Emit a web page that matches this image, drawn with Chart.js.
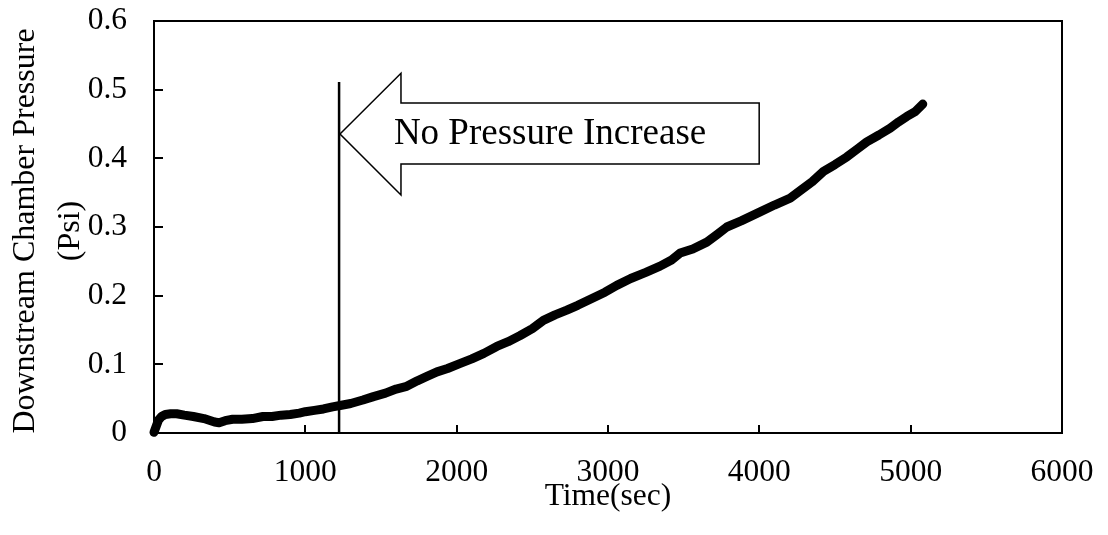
<!DOCTYPE html>
<html>
<head>
<meta charset="utf-8">
<script src="https://cdn.jsdelivr.net/npm/chart.js@4/dist/chart.umd.min.js"></script>
<style>
html,body{margin:0;padding:0;background:#fff;}
#wrap{width:1108px;height:535px;position:relative;}
</style>
</head>
<body>
<div id="wrap"><canvas id="c" width="1108" height="535"></canvas></div>
<script>
// ---- data ----
const timeSec = [0, 15, 30, 50, 75, 110, 150, 200, 260, 330, 400, 430, 470, 520, 580, 650, 720, 780, 840, 900, 960, 1000, 1060, 1120, 1180, 1230, 1300, 1380, 1450, 1530, 1600, 1670, 1740, 1800, 1870, 1940, 2020, 2100, 2180, 2265, 2340, 2420, 2500, 2573, 2650, 2728, 2800, 2904, 2980, 3058, 3150, 3250, 3344, 3420, 3477, 3560, 3653, 3720, 3785, 3880, 4005, 4100, 4204, 4270, 4350, 4424, 4500, 4578, 4650, 4710, 4790, 4865, 4920, 4975, 5030, 5080];
const pressurePsi = [0.001, 0.010, 0.019, 0.024, 0.027, 0.028, 0.028, 0.026, 0.024, 0.021, 0.016, 0.015, 0.018, 0.020, 0.020, 0.021, 0.024, 0.024, 0.026, 0.027, 0.029, 0.031, 0.033, 0.035, 0.038, 0.040, 0.043, 0.048, 0.053, 0.058, 0.064, 0.068, 0.076, 0.082, 0.089, 0.094, 0.101, 0.108, 0.116, 0.126, 0.133, 0.142, 0.152, 0.164, 0.172, 0.179, 0.186, 0.197, 0.205, 0.215, 0.225, 0.234, 0.243, 0.252, 0.262, 0.268, 0.278, 0.289, 0.300, 0.309, 0.322, 0.332, 0.342, 0.353, 0.366, 0.381, 0.391, 0.402, 0.414, 0.424, 0.434, 0.444, 0.453, 0.461, 0.468, 0.479];
const xTicks = [0, 1000, 2000, 3000, 4000, 5000, 6000];
const yTicks = [0, 0.1, 0.2, 0.3, 0.4, 0.5, 0.6];
const xTitle = 'Time(sec)';
const yTitle = ['Downstream Chamber Pressure ', '(Psi) '];
const annotationText = 'No Pressure Increase';
// marker line (data units)
const markerTime = 1223;
const markerTop = 0.511;
// arrow outline (data units)
const arrowTip = {t: 1229, p: 0.4354};
const arrowHead = {t: 1632, pTop: 0.524, pBottom: 0.3466};
const arrowShaft = {tEnd: 3999, pTop: 0.4806, pBottom: 0.3917};
const labelPos = {t: 2617, p: 0.435};

const FONT = "'Liberation Serif', 'Times New Roman', serif";

const points = timeSec.map((t, i) => ({x: t, y: pressurePsi[i]}));

const framePlugin = {
  id: 'frame',
  afterDraw(chart) {
    const {ctx, chartArea: a, scales: {x, y}} = chart;
    ctx.save();
    ctx.strokeStyle = '#000';
    ctx.lineWidth = 2;
    ctx.strokeRect(a.left, a.top, a.right - a.left, a.bottom - a.top);
    // inward tick marks
    ctx.beginPath();
    xTicks.forEach(v => {
      if (v === xTicks[0] || v === xTicks[xTicks.length - 1]) return;
      const px = Math.round(x.getPixelForValue(v));
      ctx.moveTo(px, a.bottom);
      ctx.lineTo(px, a.bottom - 8);
    });
    yTicks.forEach(v => {
      if (v === yTicks[0] || v === yTicks[yTicks.length - 1]) return;
      const py = Math.round(y.getPixelForValue(v));
      ctx.moveTo(a.left, py);
      ctx.lineTo(a.left + 9, py);
    });
    ctx.stroke();
    // vertical marker line
    ctx.lineWidth = 2.5;
    ctx.beginPath();
    const mx = x.getPixelForValue(markerTime);
    ctx.moveTo(mx, y.getPixelForValue(0));
    ctx.lineTo(mx, y.getPixelForValue(markerTop));
    ctx.stroke();
    // arrow outline
    const X = v => x.getPixelForValue(v), Y = v => y.getPixelForValue(v);
    ctx.beginPath();
    ctx.moveTo(X(arrowTip.t), Y(arrowTip.p));
    ctx.lineTo(X(arrowHead.t), Y(arrowHead.pTop));
    ctx.lineTo(X(arrowHead.t), Y(arrowShaft.pTop));
    ctx.lineTo(X(arrowShaft.tEnd), Y(arrowShaft.pTop));
    ctx.lineTo(X(arrowShaft.tEnd), Y(arrowShaft.pBottom));
    ctx.lineTo(X(arrowHead.t), Y(arrowShaft.pBottom));
    ctx.lineTo(X(arrowHead.t), Y(arrowHead.pBottom));
    ctx.closePath();
    ctx.fillStyle = '#fff';
    ctx.fill();
    ctx.lineWidth = 1.5;
    ctx.stroke();
    ctx.fillStyle = '#000';
    ctx.font = "37px " + FONT;
    ctx.textAlign = 'center';
    ctx.textBaseline = 'middle';
    ctx.fillText(annotationText, X(labelPos.t), Y(labelPos.p));
    ctx.restore();
  }
};

function zeroPad(s) { s.paddingLeft = 0; s.paddingRight = 0; s.paddingTop = 0; s.paddingBottom = 0; }

new Chart(document.getElementById('c'), {
  type: 'scatter',
  data: {
    datasets: [{
      data: points,
      showLine: true,
      borderColor: '#000',
      backgroundColor: '#000',
      borderWidth: 9,
      pointRadius: 0,
      borderCapStyle: 'round',
      borderJoinStyle: 'round',
      tension: 0,
      clip: 12
    }]
  },
  options: {
    responsive: false,
    animation: false,
    devicePixelRatio: 1,
    layout: {padding: {top: 21, right: 46, left: 0, bottom: 0}},
    plugins: {legend: {display: false}, tooltip: {enabled: false}},
    scales: {
      x: {
        type: 'linear', min: 0, max: 6000,
        afterBuildTicks: s => { s.ticks = xTicks.map(v => ({value: v})); },
        afterFit: s => { s.height = 102; zeroPad(s); },
        grid: {display: false, drawTicks: false},
        border: {display: false},
        ticks: {color: '#000', padding: 21, maxRotation: 0, autoSkip: false, font: {family: FONT, size: 31.5}, callback: v => String(v)},
        title: {display: true, text: xTitle, color: '#000', font: {family: FONT, size: 31.5, lineHeight: 1.2}, padding: {top: 0, bottom: 19}}
      },
      y: {
        type: 'linear', min: 0, max: 0.6,
        afterBuildTicks: s => { s.ticks = yTicks.map(v => ({value: v})); },
        afterFit: s => { s.width = 154; zeroPad(s); },
        grid: {display: false, drawTicks: false},
        border: {display: false},
        ticks: {color: '#000', padding: 27, autoSkip: false, font: {family: FONT, size: 31.5}, callback: v => String(Math.round(v * 10) / 10)},
        title: {display: true, text: yTitle, color: '#000', font: {family: FONT, size: 32, lineHeight: 1.4}, padding: {top: 3, bottom: 0}}
      }
    }
  },
  plugins: [framePlugin]
});
</script>
</body>
</html>
